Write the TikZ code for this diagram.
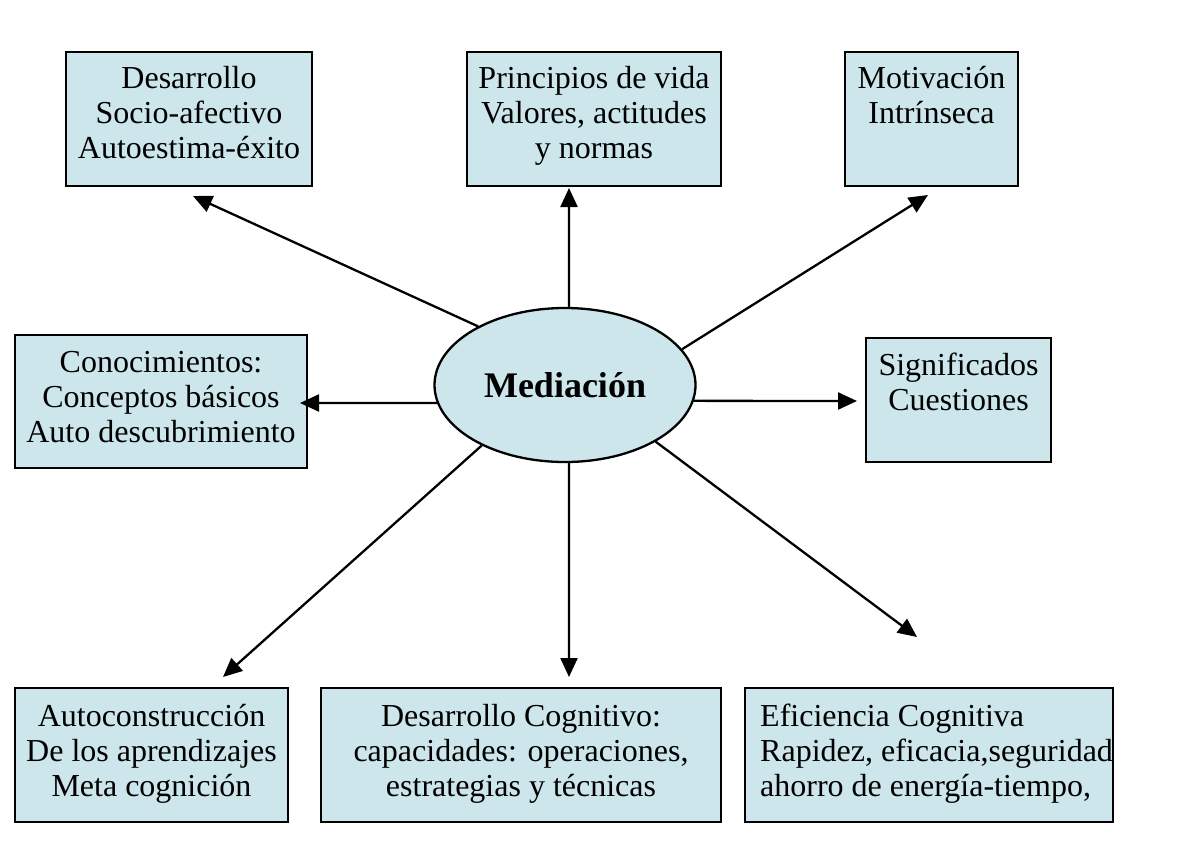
\documentclass[tikz,border=0pt]{standalone}
\usepackage{fontspec}
\setmainfont{Liberation Serif}
\usetikzlibrary{arrows.meta,shapes.geometric}
\definecolor{boxfill}{RGB}{204,230,235}
\begin{document}
\begin{tikzpicture}[x=1pt,y=-1pt,
  box/.style={draw=black, line width=2.8pt, fill=boxfill, rectangle, inner sep=0pt},
  boxtext/.style={inner sep=0pt, align=center, anchor=north, font=\fontsize{32}{35}\selectfont},
  conn/.style={line width=2.3pt, -{Triangle[length=19pt,width=17pt]}}]
\fill[white] (0,0) rectangle (1193,852);
\useasboundingbox (0,0) rectangle (1193,852);

% boxes
\node[box, minimum width=246pt, minimum height=134pt] (b1) at (189,119) {};
\node[box, minimum width=254pt, minimum height=134pt] (b2) at (594,119) {};
\node[box, minimum width=173pt, minimum height=134pt] (b3) at (931.5,119) {};
\node[box, minimum width=292pt, minimum height=133pt] (b4) at (161,401.5) {};
\node[box, minimum width=185pt, minimum height=124pt] (b5) at (958.5,400) {};
\node[box, minimum width=273pt, minimum height=134pt] (b6) at (151.5,755) {};
\node[box, minimum width=400pt, minimum height=134pt] (b7) at (521,755) {};
\node[box, minimum width=368pt, minimum height=134pt] (b8) at (929,755) {};

% texts
\node[boxtext] (t1) at (189,63.5) {\strut Desarrollo\\Socio-afectivo\\Autoestima-éxito};
\node[boxtext] (t2) at (594,63.5) {\strut Principios de vida\\Valores, actitudes\\y normas};
\node[boxtext] (t3) at (931.5,63.5) {\strut Motivación\\Intrínseca};
\node[boxtext] (t4) at (161,347.5) {\strut Conocimientos:\\Conceptos básicos\\Auto descubrimiento};
\node[boxtext] (t5) at (958.5,350.5) {\strut Significados\\Cuestiones};
\node[boxtext] (t6) at (151.5,701.5) {\strut Autoconstrucción\\De los aprendizajes\\Meta cognición};
\node[boxtext] (t7) at (521,701.5) {\strut Desarrollo Cognitivo:\\capacidades: operaciones,\\estrategias y técnicas};
\begin{scope}
\clip ([xshift=1.4pt,yshift=-1.4pt]b8.north west) rectangle ([xshift=-1.4pt,yshift=1.4pt]b8.south east);
\node[boxtext, align=left, anchor=north west] (t8) at (760,701.5) {\strut Eficiencia Cognitiva\\Rapidez, eficacia,seguridad\\ahorro de energía-tiempo,};
\end{scope}

% centre
\node[ellipse, draw=black, line width=2.3pt, fill=boxfill, minimum width=261pt, minimum height=154pt, inner sep=0pt,
  font=\bfseries\fontsize{36}{40}\selectfont] (med) at (565,385) {Mediación};

% arrow tips
\coordinate (a1) at (193,196);
\coordinate (a2) at (569,188);
\coordinate (a3) at (928,195);
\coordinate (a4) at (300,403);
\coordinate (a5) at (857,401);
\coordinate (a6) at (223,677);
\coordinate (a7) at (569,677);
\coordinate (a8) at (917,637);

\draw[conn] (med.146.7) -- (a1);
\draw[conn] (med.87) -- (a2);
\draw[conn] (med.17.1) -- (a3);
\draw[conn] (med.188.1) -- (a4);
\draw[conn] (med.-7) -- (a5);
\draw[conn] (med.216.4) -- (a6);
\draw[conn] (med.-87) -- (a7);
\draw[conn] (med.-32.6) -- (a8);
\end{tikzpicture}
\end{document}
